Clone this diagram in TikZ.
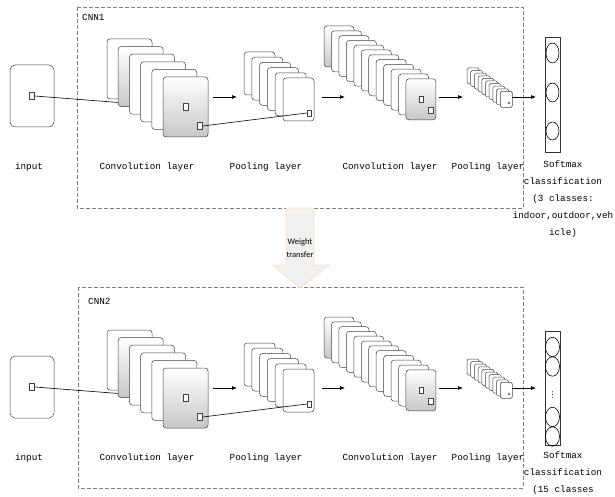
\documentclass[tikz,border=0pt]{standalone}
\usepackage{fontspec}
\setmonofont{Liberation Mono}
\newfontfamily\calibri{Carlito}
\newfontfamily\dejavu{DejaVu Sans}
\usetikzlibrary{arrows.meta}

\tikzset{
  card/.style={draw=black!75, line width=0.5pt, rounded corners=3pt, fill=white},
  shadedcard/.style={card, top color=white, bottom color=black!22},
  cell/.style={draw=black!75, line width=0.5pt, fill=white, inner sep=0pt, minimum width=5pt, minimum height=7pt},
  frame/.style={draw=black!50, dash pattern=on 4pt off 2pt, line width=0.7pt},
  lab/.style={font=\ttfamily\fontsize{9.3}{17}\selectfont, inner sep=0pt},
  flow/.style={-{Latex[length=5pt,width=4pt]}, line width=0.7pt}
}

\begin{document}
\begin{tikzpicture}[x=1pt,y=-1pt]
  \useasboundingbox (0,0) rectangle (615,497);
  % the two network frames
  \draw[frame] (77,7) rectangle (523,208);
  \draw[frame] (78,287) rectangle (523,488);
  \node[lab, anchor=west] (cnn1) at (82,17) {CNN1};
  \node[lab, anchor=west] (cnn2) at (88,301) {CNN2};

  \foreach \p/\dy in {1/0,2/291} {
  \begin{scope}[yshift=-\dy pt]
    % input
    \draw[card, rounded corners=5pt] (10,65) rectangle (54,127);
    \node[cell] (in\p) at (32,96) {};
    \coordinate (rf\p) at (125,103);
    \draw[line width=0.6pt] (in\p.east) -- (rf\p);
    % convolution layer
    \foreach \i/\s in {0/card,1/shadedcard,2/card,3/card,4/card,5/shadedcard}
      \draw[\s] (107+11.2*\i,39+7.6*\i) rectangle ++(45,60);
    \node[cell] (ka\p) at (186,107) {};
    \node[cell] (kb\p) at (200,126) {};
    % pooling layer
    \foreach \i in {0,...,5}
      \draw[card] (244+7.8*\i,52+5.2*\i) rectangle ++(31,43);
    \node[cell, minimum width=4pt, minimum height=6pt] (pq\p) at (309,113) {};
    \draw[line width=0.6pt] (kb\p.east) -- (pq\p.west);
    % convolution layer
    \foreach \i/\s in {0/shadedcard,1/card,2/card,3/card,4/card,5/card,6/card,7/card,8/card,9/card,10/card,11/shadedcard}
      \draw[\s] (324+7.45*\i,26+4.8*\i) rectangle ++(30,41);
    \node[cell, minimum width=4pt, minimum height=6pt] (kc\p) at (421,99) {};
    \node[cell, minimum width=5pt, minimum height=6pt] (kd\p) at (431,110) {};
    % pooling layer
    \foreach \i in {0,...,9}
      \draw[card, rounded corners=1.5pt] (467+3.7*\i,68+2.6*\i) rectangle ++(12,16);
    \node[draw=black!75, circle, inner sep=0pt, minimum size=2.4pt, line width=0.4pt] (pr\p) at (509,103) {};
    % arrows
    \coordinate (a1\p) at (213,97);
    \coordinate (b1\p) at (237,97);
    \coordinate (a2\p) at (322,97);
    \coordinate (b2\p) at (345,97);
    \coordinate (a3\p) at (439,97);
    \coordinate (b3\p) at (463,97);
    \coordinate (a4\p) at (512,97);
    \coordinate (b4\p) at (536,97);
    \draw[flow] (a1\p) -- (b1\p);
    \draw[flow] (a2\p) -- (b2\p);
    \draw[flow] (a3\p) -- (b3\p);
    \draw[flow] (a4\p) -- (b4\p);
    % labels
    \node[lab] (li\p) at (29,167) {input};
    \node[lab] (lc\p) at (147,167) {Convolution layer};
    \node[lab] (lp\p) at (266,167) {Pooling layer};
    \node[lab] (ld\p) at (390,167) {Convolution layer};
    \node[lab] (lq\p) at (488,167) {Pooling layer};
  \end{scope}
  }

  % softmax columns
  \draw[line width=0.6pt, draw=black!80] (545,37) rectangle (560,152);
  \draw[line width=0.6pt] (552.5,53) ellipse [x radius=6.5pt, y radius=10pt];
  \draw[line width=0.6pt] (552.5,92.5) ellipse [x radius=6.5pt, y radius=9.5pt];
  \draw[line width=0.6pt] (552.5,131) ellipse [x radius=6.5pt, y radius=9pt];
  \node[lab, anchor=north, align=center] (sm1) at (563,161) {Softmax\\classification\\(3 classes:\\indoor,outdoor,veh\\icle)};

  \draw[line width=0.6pt, draw=black!80] (545,331) rectangle (560,445);
  \foreach \c in {347,366.5,417,436.5}
    \draw[line width=0.6pt] (552.5,\c) ellipse [x radius=7pt, y radius=9.75pt];
  \node[font=\dejavu\fontsize{8}{8}\selectfont, inner sep=0pt] (dots) at (552.5,395) {⋮};
  \node[lab, anchor=north, align=center, font=\ttfamily\fontsize{9.3}{16.6}\selectfont] (sm2) at (563,452) {Softmax\\classification\\(15 classes};

  % weight transfer arrow
  \draw[fill=black!6, draw=orange!25, line width=0.6pt]
    (286,208) -- (314,208) -- (314,265) -- (330,265) -- (300,288) -- (272,265) -- (286,265) -- cycle;
  \node[font=\calibri\fontsize{8.5}{13}\selectfont, align=center, inner sep=0pt] (wt) at (300,248) {Weight\\transfer};
\end{tikzpicture}
\end{document}
